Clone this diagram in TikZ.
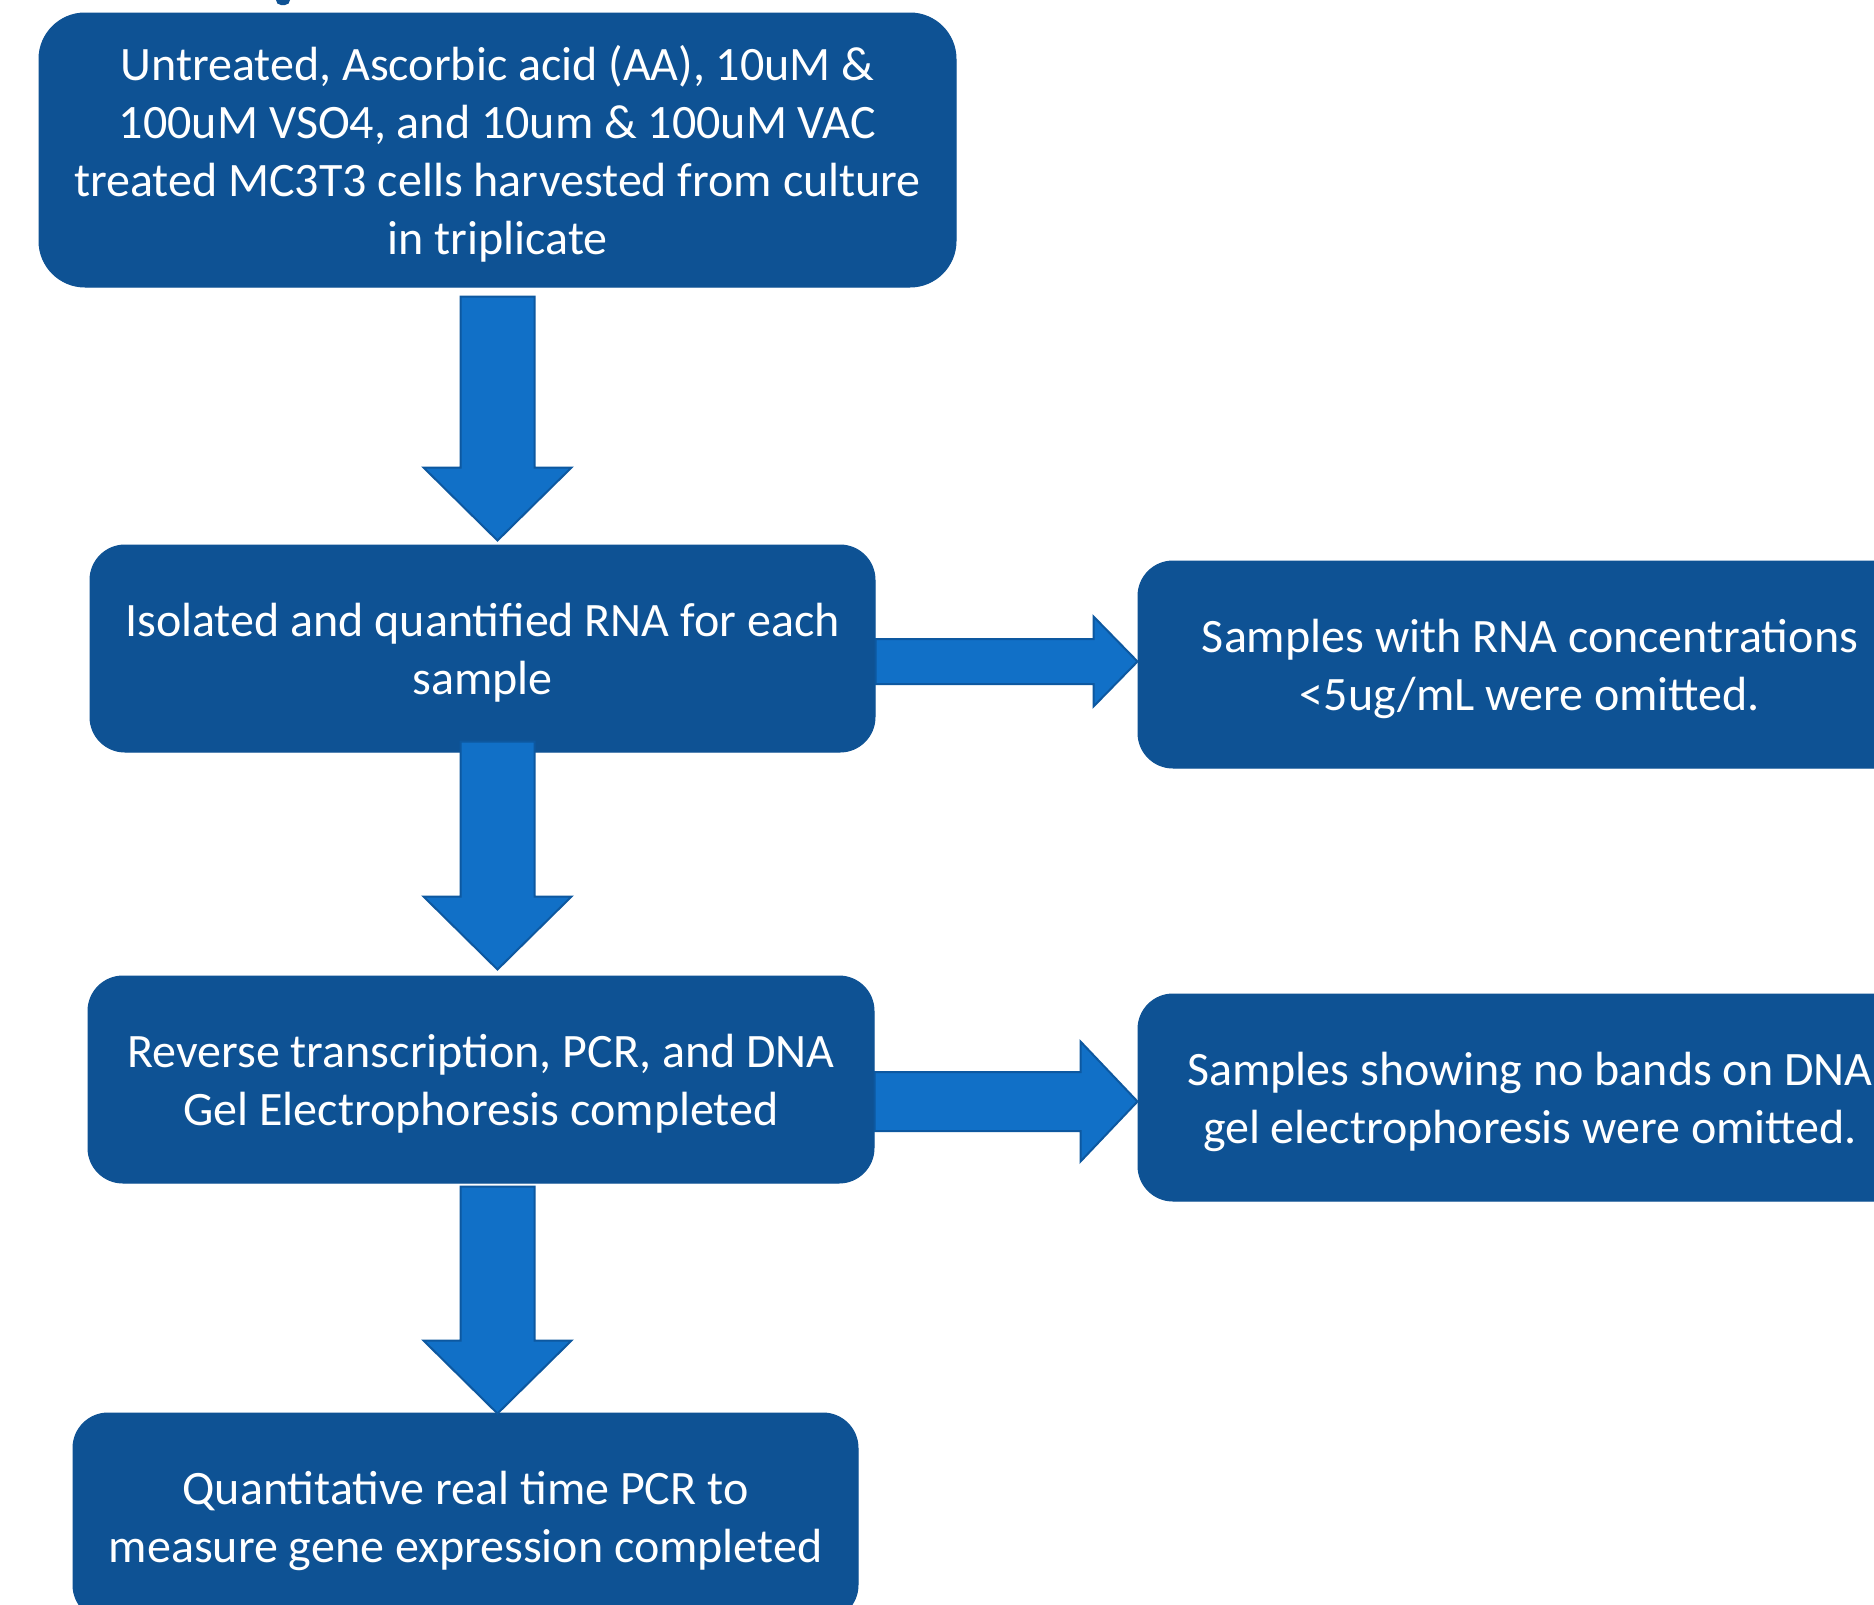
\documentclass[tikz,border=0pt]{standalone}
\usepackage{fontspec}
\setmainfont{Carlito}
\usetikzlibrary{calc}
\definecolor{boxblue}{RGB}{14,82,148}
\definecolor{arrowfill}{RGB}{17,112,199}
\definecolor{arrowline}{RGB}{13,88,160}
\tikzset{
  flowbox/.style={draw=boxblue, line width=1pt, fill=boxblue, inner sep=0pt},
  boxtext/.style={text=white, align=center, inner sep=0pt, font=\fontsize{48}{58}\selectfont},
  blkarrow/.style={fill=arrowfill, draw=arrowline, line width=2pt, line join=miter}
}
\newcommand{\downblk}[2]{%
  \draw[blkarrow] let \p1=(#1), \p2=(#2) in
    (\x2-37pt,\y1) -- (\x2+37pt,\y1) -- (\x2+37pt,\y2+73pt) -- (\x2+74pt,\y2+73pt)
    -- (\x2,\y2) -- (\x2-74pt,\y2+73pt) -- (\x2-37pt,\y2+73pt) -- cycle;}
\newcommand{\rightblk}[5]{%
  \draw[blkarrow] let \p1=(#1), \p2=(#2) in
    (\x1,\y2+#3) -- (\x2-#5,\y2+#3) -- (\x2-#5,\y2+#4) -- (\x2,\y2)
    -- (\x2-#5,\y2-#4) -- (\x2-#5,\y2-#3) -- (\x1,\y2-#3) -- cycle;}
\begin{document}
\begin{tikzpicture}[x=1pt,y=-1pt]
\useasboundingbox[fill=white] (0,0) rectangle (1874,1604);
% fragment of cut-off title
\fill[boxblue, rounded corners=5pt] (276,-10) rectangle (290,5);

\node[flowbox, rounded corners=46pt, minimum width=917pt, minimum height=274pt] (b1) at (497.5,150) {};
\node[flowbox, rounded corners=35pt, minimum width=785pt, minimum height=207pt] (b2) at (482.5,648.5) {};
\node[flowbox, rounded corners=35pt, minimum width=786pt, minimum height=207pt] (b3) at (481,1079.5) {};
\node[flowbox, rounded corners=35pt, minimum width=785pt, minimum height=207pt] (b4) at (465.5,1516.5) {};
\node[flowbox, rounded corners=35pt, minimum width=784pt, minimum height=207pt] (r1) at (1530,664.5) {};
\node[flowbox, rounded corners=35pt, minimum width=784pt, minimum height=207pt] (r2) at (1530,1097.5) {};

\node[boxtext] (t1) at ($(b1.center)+(0,4)$)
  {Untreated, Ascorbic acid (AA), 10uM \&\\100uM VSO4, and 10um \& 100uM VAC\\treated MC3T3 cells harvested from culture\\in triplicate};
\node[boxtext] (t2) at ($(b2.center)+(0,4)$) {Isolated and quantified RNA for each\\sample};
\node[boxtext] (t3) at ($(b3.center)+(0,4)$) {Reverse transcription, PCR, and DNA\\Gel Electrophoresis completed};
\node[boxtext] (t4) at ($(b4.center)+(0,4)$) {Quantitative real time PCR to\\measure gene expression completed};
\node[boxtext] (tr1) at ($(r1.center)+(0,4)$) {Samples with RNA concentrations\\<5ug/mL were omitted.};
\node[boxtext] (tr2) at ($(r2.center)+(0,4)$) {Samples showing no bands on DNA\\gel electrophoresis were omitted.};

\coordinate (a1s) at ($(b1.south)+(0,9)$);
\coordinate (a1t) at ($(b2.north -| b1.south)+(0,-4)$);
\coordinate (a2s) at ($(b2.south -| b1.south)+(0,-11)$);
\coordinate (a2t) at ($(b3.north -| b1.south)+(0,-6)$);
\coordinate (a3s) at ($(b3.south -| b1.south)+(0,3)$);
\coordinate (a3t) at ($(b4.north -| b1.south)+(0,1)$);
\downblk{a1s}{a1t}
\downblk{a2s}{a2t}
\downblk{a3s}{a3t}

\coordinate (h1t) at ($(r1.west)+(0,-3)$);
\coordinate (h2t) at ($(r2.west)+(0,4)$);
\rightblk{b2.east}{h1t}{22.5pt}{45pt}{44pt}
\rightblk{b3.east}{h2t}{29.5pt}{60pt}{57pt}
\end{tikzpicture}
\end{document}
